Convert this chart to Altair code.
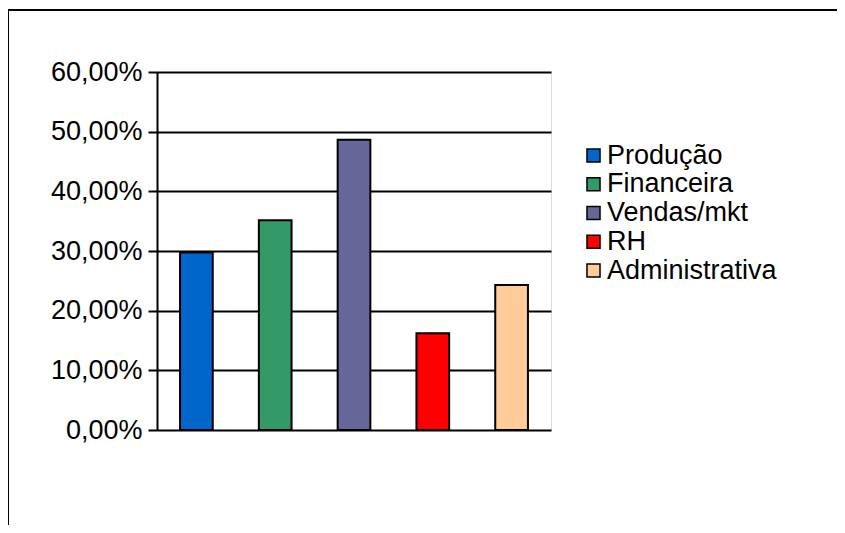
import altair as alt
import pandas as pd

categories = ["Produção", "Financeira", "Vendas/mkt", "RH", "Administrativa"]
values = [0.2973, 0.3514, 0.4865, 0.1622, 0.2432]
colors = ["#0066CC", "#339966", "#666699", "#FF0000", "#FFCC99"]
y_ticks = [0.0, 0.1, 0.2, 0.3, 0.4, 0.5, 0.6]

df = pd.DataFrame({"area": categories, "valor": values})

FONT = "Liberation Sans"
FS = 27

bars = alt.Chart(df).mark_bar(stroke="black", strokeWidth=2).encode(
    x=alt.X("area:N", sort=categories,
            scale=alt.Scale(paddingInner=0.585, paddingOuter=0.2925),
            axis=alt.Axis(title=None, labels=False, ticks=False, domain=False, grid=False)),
    y=alt.Y("valor:Q",
            scale=alt.Scale(domain=[0, 0.6], nice=False),
            axis=alt.Axis(title=None, values=y_ticks,
                          labelExpr="replace(format(datum.value, '.2%'), '.', ',')",
                          grid=True, gridColor="black", gridWidth=2, gridOpacity=1,
                          domain=True, domainColor="black", domainWidth=2,
                          ticks=True, tickColor="black", tickWidth=2, tickSize=9,
                          labelFont=FONT, labelFontSize=FS, labelColor="black",
                          labelPadding=6)),
    color=alt.Color("area:N", sort=categories,
                    scale=alt.Scale(domain=categories, range=colors),
                    legend=alt.Legend(title=None, orient="none", legendX=423, legendY=70,
                                      padding=0,
                                      symbolType="square", symbolSize=170,
                                      symbolStrokeColor="black", symbolStrokeWidth=1.5,
                                      labelFont=FONT, labelFontSize=FS, labelColor="black",
                                      labelOffset=0, rowPadding=0.75, labelLimit=400)),
)

frame = alt.Chart(pd.DataFrame({"k": [0]})).mark_rect(
    fill=None, stroke="black", strokeWidth=2
).encode(
    x=alt.value(-149), x2=alt.value(720), y=alt.value(-62), y2=alt.value(490)
)

chart = alt.layer(frame, bars).properties(
    width=394, height=358,
    padding={"left": 149, "top": 64, "right": 286, "bottom": 95},
    autosize=alt.AutoSizeParams(type="none"),
).configure_view(stroke=None).configure(background="white")

chart.save("out.html", embed_options={"renderer": "svg", "actions": False})
